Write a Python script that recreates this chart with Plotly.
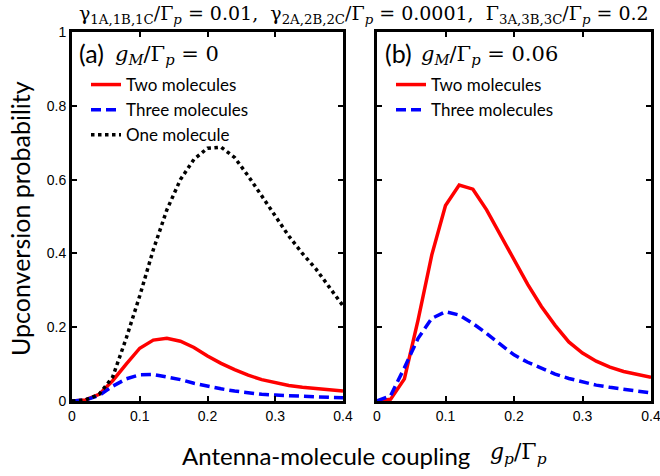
import plotly.graph_objects as go

x_vals = [0, 0.02, 0.04, 0.06, 0.08, 0.10, 0.12, 0.14, 0.16, 0.18, 0.20,
          0.22, 0.24, 0.26, 0.28, 0.30, 0.32, 0.34, 0.36, 0.38, 0.40]

# Panel (a): g_M / Gamma_p = 0
a_two = [0, 0.003, 0.018, 0.055, 0.100, 0.143, 0.165, 0.170, 0.162, 0.145, 0.122,
         0.102, 0.085, 0.070, 0.058, 0.049, 0.042, 0.037, 0.033, 0.030, 0.027]
a_three = [0, 0.003, 0.015, 0.040, 0.060, 0.071, 0.072, 0.066, 0.058, 0.048, 0.040,
           0.033, 0.027, 0.022, 0.018, 0.016, 0.014, 0.012, 0.011, 0.010, 0.009]
a_one = [0, 0.003, 0.018, 0.065, 0.170, 0.285, 0.410, 0.518, 0.600, 0.655, 0.685,
         0.688, 0.660, 0.610, 0.556, 0.500, 0.447, 0.400, 0.358, 0.308, 0.258]

# Panel (b): g_M / Gamma_p = 0.06
b_two = [0, 0.005, 0.060, 0.220, 0.396, 0.530, 0.585, 0.574, 0.518, 0.450, 0.382,
         0.316, 0.256, 0.205, 0.160, 0.130, 0.108, 0.092, 0.080, 0.071, 0.064]
b_three = [0, 0.015, 0.090, 0.170, 0.224, 0.242, 0.233, 0.210, 0.183, 0.153, 0.125,
           0.105, 0.089, 0.073, 0.061, 0.051, 0.043, 0.037, 0.032, 0.026, 0.022]

x_ticks = [0, 0.1, 0.2, 0.3, 0.4]
y_ticks = [0, 0.2, 0.4, 0.6, 0.8, 1]

RED = "#ff0000"
BLUE = "#0000ff"
LW = 3.5
SANS = "Lato"
SERIF = "DejaVu Serif"
W, H = 660, 476

fig = go.Figure()

fig.add_trace(go.Scatter(x=x_vals, y=a_two, mode="lines", name="Two molecules",
                         line=dict(color=RED, width=LW), xaxis="x", yaxis="y",
                         legend="legend"))
fig.add_trace(go.Scatter(x=x_vals, y=a_three, mode="lines", name="Three molecules",
                         line=dict(color=BLUE, width=LW, dash="10px,5px"),
                         xaxis="x", yaxis="y", legend="legend"))
fig.add_trace(go.Scatter(x=x_vals, y=a_one, mode="lines", name="One molecule",
                         line=dict(color="black", width=LW, dash="dot"),
                         xaxis="x", yaxis="y", legend="legend"))
fig.add_trace(go.Scatter(x=x_vals, y=b_two, mode="lines", name="Two molecules",
                         line=dict(color=RED, width=LW), xaxis="x2", yaxis="y2",
                         legend="legend2"))
fig.add_trace(go.Scatter(x=x_vals, y=b_three, mode="lines", name="Three molecules",
                         line=dict(color=BLUE, width=LW, dash="10px,5px"),
                         xaxis="x2", yaxis="y2", legend="legend2"))

ydom = [1 - 401 / H, 1 - 32 / H]
axis_common = dict(showline=True, linecolor="black", linewidth=3, mirror="ticks",
                   ticks="inside", ticklen=5, tickwidth=1.5, tickcolor="black",
                   showgrid=False, zeroline=False, automargin=False,
                   ticklabeloverflow="allow",
                   tickfont=dict(family="Liberation Sans", size=14, color="black"))

legend_common = dict(xanchor="left", yanchor="top", bgcolor="rgba(0,0,0,0)",
                     font=dict(family=SANS, size=17, color="black"),
                     tracegroupgap=0, itemwidth=30)

fig.update_layout(
    template="none",
    width=W, height=H,
    margin=dict(l=0, r=0, t=0, b=0, pad=0),
    paper_bgcolor="white", plot_bgcolor="white",
    xaxis=dict(domain=[72 / W, 343 / W], range=[0, 0.4], tickvals=x_ticks,
               anchor="y", **axis_common),
    yaxis=dict(domain=ydom, range=[0, 1], tickvals=y_ticks, anchor="x",
               **axis_common),
    xaxis2=dict(domain=[377 / W, 651 / W], range=[0, 0.4], tickvals=x_ticks,
                anchor="y2", **axis_common),
    yaxis2=dict(domain=ydom, range=[0, 1], tickvals=y_ticks, anchor="x2",
                showticklabels=False, **axis_common),
    legend=dict(x=86 / W, y=1 - 67 / H, **legend_common),
    legend2=dict(x=391 / W, y=1 - 67 / H, **legend_common),
    showlegend=True,
)

annotations = [
    dict(text="γ<sub>1A,1B,1C</sub>/Γ<sub><i>p</i></sub> = 0.01,  "
              "γ<sub>2A,2B,2C</sub>/Γ<sub><i>p</i></sub> = 0.0001,  "
              "Γ<sub>3A,3B,3C</sub>/Γ<sub><i>p</i></sub> = 0.2",
         x=364 / W, y=1 - 14 / H, xanchor="center",
         font=dict(family=SERIF, size=19, color="black")),
    dict(text="(a)", x=77 / W, y=1 - 53 / H, xanchor="left",
         font=dict(family=SANS, size=25, color="black")),
    dict(text="<i>g<sub>M</sub></i>/Γ<sub><i>p</i></sub> = 0", x=113 / W,
         y=1 - 55 / H, xanchor="left", font=dict(family=SERIF, size=21, color="black")),
    dict(text="(b)", x=383 / W, y=1 - 53 / H, xanchor="left",
         font=dict(family=SANS, size=25, color="black")),
    dict(text="<i>g<sub>M</sub></i>/Γ<sub><i>p</i></sub> = 0.06", x=419 / W,
         y=1 - 55 / H, xanchor="left", font=dict(family=SERIF, size=21, color="black")),
    dict(text="Antenna-molecule coupling", x=472 / W, y=1 - 455 / H, xanchor="right",
         font=dict(family=SANS, size=24, color="black")),
    dict(text="<i>g<sub>p</sub></i>/Γ<sub><i>p</i></sub>", x=488 / W, y=1 - 453 / H,
         xanchor="left", font=dict(family=SERIF, size=22, color="black")),
    dict(text="Upconversion probability", x=20 / W, y=1 - 219 / H, textangle=-90,
         xanchor="center", font=dict(family=SANS, size=25, color="black")),
]
for a in annotations:
    a.update(xref="paper", yref="paper", showarrow=False, yanchor="middle")
fig.update_layout(annotations=annotations)

fig.write_html("out.html")
